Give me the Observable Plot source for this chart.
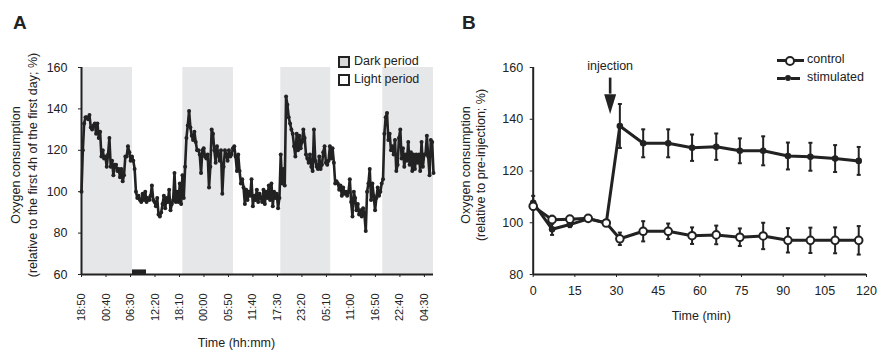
<!DOCTYPE html>
<html>
<head>
<meta charset="utf-8">
<script src="https://cdn.jsdelivr.net/npm/d3@7"></script>
<script src="https://cdn.jsdelivr.net/npm/@observablehq/plot@0.6"></script>
<style>
  html, body { margin: 0; padding: 0; background: #fff; }
  #root { position: relative; width: 880px; height: 350px; font-family: "Liberation Sans", Arial, sans-serif; color: #222; overflow: hidden; }
  .panel { position: absolute; top: 0; }
  .letter { position: absolute; font-weight: bold; font-size: 19px; line-height: 19px; }
  .leg { position: absolute; font-size: 12.5px; line-height: 14px; white-space: nowrap; }
  .sq { position: absolute; width: 8px; height: 8px; border: 2px solid #222; }
  .seg { position: absolute; height: 3px; background: #222; }
  .circ { position: absolute; border-radius: 50%; box-sizing: border-box; }
</style>
</head>
<body>
<div id="root"></div>
<script>
// ---------------- Panel A data ----------------
const tickLabelsA = ["18:50","00:40","06:30","12:20","18:10","00:00","05:50","11:40","17:30","23:20","05:10","11:00","16:50","22:40","04:30"];
const tickTimesA = [0,350,700,1050,1400,1750,2100,2450,2800,3150,3500,3850,4200,4550,4900]; // minutes since start
const darkStart = [0, 1448, 2848, 4305];
const darkEnd   = [729, 2171, 3562, 5029];
const barStart = [729];
const barEnd = [929];
const barTop = [62.2];
const recordingEnd = 5030; // minutes
const valuesA = [
100,120,133,136,136,135,137,131,130,132,133,128,133,126,129,117,120,116,117,112,
118,126,112,115,108,113,113,110,111,107,111,105,108,117,117,122,119,115,117,115,
111,100,97,98,96,95,99,96,100,95,97,96,98,103,96,95,93,97,89,88,
90,94,98,92,97,95,101,91,94,96,109,95,100,95,104,94,108,97,112,126,
132,139,131,127,125,129,124,120,120,118,109,120,121,117,116,118,102,112,130,128,
120,114,122,118,115,120,99,112,120,118,115,120,117,118,121,122,117,110,118,110,
104,106,102,94,101,96,100,98,106,93,98,96,101,95,99,97,95,101,94,100,
97,103,96,104,93,100,97,99,92,97,118,104,111,103,146,142,136,133,130,128,
122,117,128,120,127,121,124,130,126,118,116,114,118,112,110,130,115,112,111,117,
111,113,119,122,114,113,115,122,116,121,114,104,105,104,101,103,98,102,99,100,
98,100,106,95,88,100,97,91,94,89,91,88,92,89,81,100,104,111,96,104,
98,91,97,102,98,100,104,106,128,136,138,125,128,120,122,118,125,110,113,126,
130,116,121,112,118,115,124,113,119,110,118,111,118,114,118,110,124,112,118,118,
127,117,108,125,124,109
];

// ---------------- Panel B data ----------------
const timesB = [0, 6.8, 13.2, 19.8, 26.3, 31.2, 39.6, 48.6, 57.2, 65.9, 74.4, 82.8, 91.7, 99.8, 108.7, 117.2];
const controlB = [106.4, 101.2, 101.4, 101.7, 99.9, 93.8, 96.7, 96.7, 95.0, 95.3, 94.4, 94.9, 93.2, 93.2, 93.2, 93.2];
const controlErrB = [1.0, 1.5, 0.8, 0.8, 0.6, 2.4, 3.9, 3.0, 3.2, 3.6, 3.4, 5.1, 4.7, 4.9, 5.0, 5.5];
const stimB = [107.7, 97.5, 99.3, 101.5, 99.9, 137.4, 130.7, 130.7, 129.0, 129.4, 127.8, 127.8, 125.8, 125.5, 124.8, 123.9];
const stimErrB = [2.7, 2.2, 1.0, 0.8, 0.6, 8.5, 5.4, 5.4, 5.1, 5.1, 4.8, 5.6, 5.2, 5.4, 5.2, 5.4];
const injectionTime = 27.7;
const arrowTop = 155.9, arrowHeadTop = 149.7;
const injectionLabelY = 160.6;

const FONT = '"Liberation Sans", Arial, sans-serif';
const INK = "#222";

// ---------------- Build tables ----------------
const sampleStep = recordingEnd / (valuesA.length - 1);
const seriesA = valuesA.map((v, i) => ({t: i * sampleStep, v}));
const bandsA = darkStart.map((s, i) => ({s, e: darkEnd[i]}));
const barA = barStart.map((s, i) => ({s, e: barEnd[i], top: barTop[i]}));
const labelByTime = new Map(tickTimesA.map((t, i) => [t, tickLabelsA[i]]));

const ctrlPts = timesB.map((t, i) => ({t, group: "control", v: controlB[i], lo: controlB[i] - controlErrB[i], hi: controlB[i] + controlErrB[i]}));
const stimPts = timesB.map((t, i) => ({t, group: "stimulated", v: stimB[i], lo: stimB[i] - stimErrB[i], hi: stimB[i] + stimErrB[i]}));

// custom symbols
const capSymbol = { draw(ctx, size) { const w = Math.sqrt(size / Math.PI); ctx.moveTo(-w, 0); ctx.lineTo(w, 0); } };
const headSymbol = { draw(ctx, size) { const w = Math.sqrt(size / Math.PI); ctx.moveTo(-w, 0); ctx.lineTo(w, 0); ctx.lineTo(0, w * 3.3); ctx.closePath(); } };

const baseStyle = {fontFamily: FONT, fontSize: "12px", color: INK, background: "transparent", overflow: "visible"};
const yTitle = (txt, dx) => Plot.text([txt], {text: d => d, frameAnchor: "left", textAnchor: "middle", lineAnchor: "middle", rotate: -90, dx, dy: -6, fontSize: 12.5, fill: INK});
const xTitle = (txt, dx, dy) => Plot.text([txt], {text: d => d, frameAnchor: "bottom", textAnchor: "middle", lineAnchor: "middle", dx, dy, fontSize: 12.5, fill: INK});

// ---------------- Panel A ----------------
const chartA = Plot.plot({
  width: 450, height: 350,
  marginLeft: 81, marginRight: 17, marginTop: 67, marginBottom: 76,
  style: baseStyle,
  x: {domain: [0, recordingEnd]},
  y: {domain: [60, 160]},
  marks: [
    Plot.rect(bandsA, {x1: "s", x2: "e", y1: 60, y2: 160, fill: "#e6e7e9"}),
    Plot.rect(barA, {x1: "s", x2: "e", y1: 60, y2: "top", fill: INK}),
    Plot.line(seriesA, {x: "t", y: "v", stroke: INK, strokeWidth: 2.6, strokeLinejoin: "round"}),
    Plot.dot(seriesA, {x: "t", y: "v", r: 2, fill: INK}),
    Plot.axisY({ticks: [60, 80, 100, 120, 140, 160], tickSize: 3, tickPadding: 11, label: null, fontSize: 12.5, stroke: INK}),
    Plot.axisX({ticks: tickTimesA, tickFormat: d => labelByTime.get(d), tickRotate: -90, tickSize: 3, tickPadding: 16, label: null, fontSize: 11, stroke: INK}),
    Plot.ruleX([0], {stroke: INK, strokeWidth: 2}),
    Plot.ruleY([60], {stroke: INK, strokeWidth: 2}),
    yTitle("Oxygen consumption", -66),
    yTitle("(relative to the first 4h of the first day; %)", -49),
    xTitle("Time (hh:mm)", -21, 68)
  ]
});

// ---------------- Panel B ----------------
const chartB = Plot.plot({
  width: 430, height: 350,
  marginLeft: 82.7, marginRight: 14, marginTop: 67, marginBottom: 76,
  style: baseStyle,
  x: {domain: [0, 120]},
  y: {domain: [80, 160]},
  marks: [
    Plot.axisY({ticks: [80, 100, 120, 140, 160], tickSize: 3, tickPadding: 7, label: null, fontSize: 12.5, stroke: INK}),
    Plot.axisX({ticks: d3.range(0, 121, 15), tickSize: 3, tickPadding: 9, label: null, fontSize: 12.5, stroke: INK}),
    Plot.ruleX([0], {stroke: INK, strokeWidth: 2}),
    Plot.ruleY([80], {stroke: INK, strokeWidth: 2}),
    // stimulated
    Plot.ruleX(stimPts, {x: "t", y1: "lo", y2: "hi", stroke: INK, strokeWidth: 2}),
    Plot.dot(stimPts, {x: "t", y: "hi", symbol: capSymbol, r: 2, stroke: INK, strokeWidth: 2}),
    Plot.dot(stimPts, {x: "t", y: "lo", symbol: capSymbol, r: 2, stroke: INK, strokeWidth: 2}),
    Plot.line(stimPts, {x: "t", y: "v", stroke: INK, strokeWidth: 3}),
    Plot.dot(stimPts, {x: "t", y: "v", r: 3.3, fill: INK}),
    // control
    Plot.ruleX(ctrlPts, {x: "t", y1: "lo", y2: "hi", stroke: INK, strokeWidth: 2}),
    Plot.dot(ctrlPts, {x: "t", y: "hi", symbol: capSymbol, r: 2, stroke: INK, strokeWidth: 2}),
    Plot.dot(ctrlPts, {x: "t", y: "lo", symbol: capSymbol, r: 2, stroke: INK, strokeWidth: 2}),
    Plot.line(ctrlPts, {x: "t", y: "v", stroke: INK, strokeWidth: 3}),
    Plot.dot(ctrlPts, {x: "t", y: "v", r: 3.8, fill: "white", stroke: INK, strokeWidth: 2}),
    // injection arrow
    Plot.ruleX([injectionTime], {x: d => d, y1: arrowTop, y2: arrowHeadTop, stroke: INK, strokeWidth: 2.6}),
    Plot.dot([injectionTime], {x: d => d, y: arrowHeadTop, symbol: headSymbol, r: 6, fill: INK}),
    Plot.text(["injection"], {x: injectionTime, y: injectionLabelY, text: d => d, fontSize: 12.5, fill: INK}),
    // axis labels
    yTitle("Oxygen consumption", -67.7),
    yTitle("(relative to pre-injection; %)", -52.7),
    xTitle("Time (min)", 1.4, 41)
  ]
});

// ---------------- Assemble ----------------
const root = document.getElementById("root");
chartA.classList.add("panel"); chartA.style.left = "0px";
chartB.classList.add("panel"); chartB.style.left = "450px";
root.appendChild(chartA);
root.appendChild(chartB);

function el(cls, css, text) {
  const d = document.createElement("div");
  d.className = cls;
  Object.assign(d.style, css);
  if (text) d.textContent = text;
  root.appendChild(d);
  return d;
}
el("letter", {left: "13px", top: "13px"}, "A");
el("letter", {left: "462px", top: "13px"}, "B");

// legend A
el("sq", {left: "338px", top: "56px", background: "#d9d9d9"});
el("leg", {left: "354px", top: "54px"}, "Dark period");
el("sq", {left: "338px", top: "74px", background: "#fff"});
el("leg", {left: "354px", top: "72px"}, "Light period");

// legend B
el("seg", {left: "777px", top: "59px", width: "27px"});
el("circ", {left: "785px", top: "55.5px", width: "10px", height: "10px", background: "#fff", border: "2px solid #222"});
el("leg", {left: "807px", top: "52px"}, "control");
el("seg", {left: "777px", top: "77px", width: "8px"});
el("circ", {left: "785px", top: "75px", width: "6px", height: "6px", background: "#222"});
el("seg", {left: "791px", top: "77px", width: "9px"});
el("leg", {left: "807px", top: "70px"}, "stimulated");
</script>
</body>
</html>
